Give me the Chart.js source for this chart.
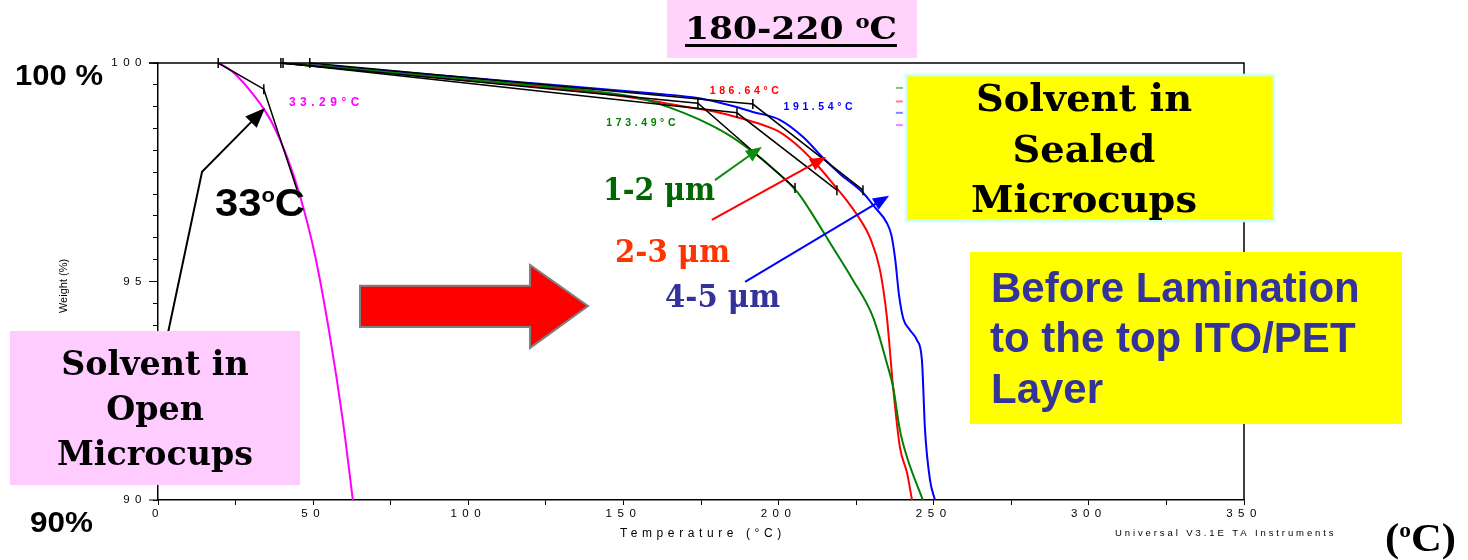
<!DOCTYPE html>
<html>
<head>
<meta charset="utf-8">
<title>TGA - solvent in microcups</title>
<script src="https://cdn.jsdelivr.net/npm/chart.js@4.4.1/dist/chart.umd.min.js"></script>
<style>
  body { margin: 0; background: #fff; }
  #wrap { width: 1468px; height: 560px; position: relative; }
</style>
</head>
<body>
<div id="wrap"><canvas id="tga"></canvas></div>
<script>
// temperature (°C) and weight (%)
const openT  = [19.5, 24, 27.4, 30, 33.8, 37, 41.6, 45.8, 50.6, 55.4, 59.6, 62.8];
const openW  = [100, 99.8, 99.56, 99.34, 98.98, 98.6, 97.85, 96.95, 95.6, 93.75, 91.8, 90];

const greenT = [40, 60, 80, 100, 120, 140, 155, 165, 174, 184, 192, 198, 206, 210, 216, 224, 230.4, 234.9, 236.9, 239.1, 241.4, 246.5];
const greenW = [100, 99.88, 99.75, 99.62, 99.5, 99.36, 99.2, 98.98, 98.72, 98.35, 97.95, 97.6, 97.05, 96.64, 95.95, 95.03, 94.19, 93.13, 92.59, 91.6, 90.98, 90];

const redT = [40, 60, 80, 100, 120, 140, 158, 170, 180, 186.6, 195, 200.4, 206, 212, 218, 222, 226, 229.5, 232.7, 234.9, 236.9, 239.1, 241.4, 243];
const redW = [100, 99.87, 99.74, 99.6, 99.47, 99.33, 99.15, 99.0, 98.88, 98.76, 98.58, 98.42, 98.12, 97.7, 97.2, 96.85, 96.45, 96.0, 95.26, 94.19, 92.59, 91.21, 90.62, 90];

const blueT = [40, 60, 80, 100, 120, 140, 160, 174, 185, 191.7, 200.4, 208, 214.3, 220, 227.2, 231, 234.9, 236.4, 237.6, 238.8, 240.2, 242.2, 244.6, 246.2, 247.2, 248.8, 250.4];
const blueW = [100, 99.9, 99.78, 99.66, 99.54, 99.42, 99.3, 99.2, 99.02, 98.88, 98.7, 98.3, 97.83, 97.45, 97.03, 96.7, 96.34, 96.05, 95.5, 94.7, 94.15, 93.9, 93.66, 93.2, 91.6, 90.46, 90];

// onset construction lines (start, onset, end of tangent)
const openTanT  = [19.4, 34.1, 44.8];
const openTanW  = [100, 99.4, 97.1];
const greenTanT = [39.6, 174, 205.3];
const greenTanW = [100, 99.08, 97.14];
const redTanT   = [40.3, 186.6, 218.8];
const redTanW   = [100, 98.86, 97.09];
const blueTanT  = [48.9, 191.7, 227.2];
const blueTanW  = [100, 99.06, 97.09];

const onsetText = ['33.29°C', '173.49°C', '186.64°C', '191.54°C'];
const onsetAt   = [[42.2, 99.1], [144.5, 98.63], [177.8, 99.36], [201.6, 98.98]];

const xMin = 0, xMax = 350, xStep = 25, xLabelEvery = 50;
const yMin = 90, yMax = 100, yStep = 0.5, yLabels = [90, 95, 100];

const pts = (t, w) => t.map((v, i) => ({x: v, y: w[i]}));

function curve(t, w, color) {
  return {data: pts(t, w), borderColor: color, borderWidth: 2, pointRadius: 0,
          cubicInterpolationMode: 'monotone', fill: false};
}
function tangent(t, w, radii) {
  return {data: pts(t, w), borderColor: '#000', borderWidth: 1.5, tension: 0,
          pointStyle: 'line', rotation: 90, pointRadius: radii,
          pointBorderColor: '#000', pointBorderWidth: 1.5, clip: false, fill: false};
}

function richWidth(ctx, parts) {
  let w = 0;
  for (const p of parts) { ctx.font = p.font; w += ctx.measureText(p.text).width; }
  return w;
}
// draws text parts on one baseline, squeezed/stretched to targetW when given
function drawRich(ctx, parts, x, y, align, targetW, color) {
  const w = richWidth(ctx, parts);
  const sx = targetW ? targetW / w : 1;
  const dw = w * sx;
  const x0 = align === 'center' ? x - dw / 2 : align === 'right' ? x - dw : x;
  ctx.save();
  ctx.translate(x0, y);
  ctx.scale(sx, 1);
  ctx.fillStyle = color;
  ctx.textAlign = 'left';
  ctx.textBaseline = 'alphabetic';
  let cx = 0;
  for (const p of parts) {
    ctx.font = p.font;
    ctx.fillText(p.text, cx, -(p.rise || 0));
    cx += ctx.measureText(p.text).width;
  }
  ctx.restore();
  return {x0: x0, w: dw};
}
function drawBlock(ctx, lines, font, cx, baselines, widest, widestW, color) {
  ctx.font = font;
  const sx = widestW / ctx.measureText(widest).width;
  lines.forEach((ln, i) => {
    ctx.font = font;
    drawRich(ctx, [{text: ln, font: font}], cx, baselines[i], 'center', ctx.measureText(ln).width * sx, color);
  });
}
function arrow(ctx, p, color, lw, hl, hw) {
  ctx.save();
  ctx.strokeStyle = color; ctx.fillStyle = color; ctx.lineWidth = lw;
  const a = p[p.length - 2], b = p[p.length - 1];
  const ang = Math.atan2(b[1] - a[1], b[0] - a[0]);
  ctx.beginPath();
  ctx.moveTo(p[0][0], p[0][1]);
  for (let i = 1; i < p.length - 1; i++) ctx.lineTo(p[i][0], p[i][1]);
  ctx.lineTo(b[0] - Math.cos(ang) * hl * 0.8, b[1] - Math.sin(ang) * hl * 0.8);
  ctx.stroke();
  ctx.beginPath();
  ctx.moveTo(b[0], b[1]);
  ctx.lineTo(b[0] - Math.cos(ang) * hl - Math.sin(ang) * hw / 2, b[1] - Math.sin(ang) * hl + Math.cos(ang) * hw / 2);
  ctx.lineTo(b[0] - Math.cos(ang) * hl + Math.sin(ang) * hw / 2, b[1] - Math.sin(ang) * hl - Math.cos(ang) * hw / 2);
  ctx.closePath();
  ctx.fill();
  ctx.restore();
}

const decorations = {
  id: 'decorations',
  beforeDraw(chart) {
    chart.ctx.letterSpacing = '5.5px';
  },
  afterDraw(chart) {
    const ctx = chart.ctx;
    const xs = chart.scales.x, ys = chart.scales.y;
    const P = (t, w) => [xs.getPixelForValue(t), ys.getPixelForValue(w)];
    const area = chart.chartArea;
    ctx.save();
    ctx.letterSpacing = '0px';

    // frame top and right, longer major ticks on y
    ctx.strokeStyle = '#000'; ctx.lineWidth = 1.5;
    ctx.beginPath();
    ctx.moveTo(area.left - 9, area.top); ctx.lineTo(area.right, area.top); ctx.lineTo(area.right, area.bottom);
    ctx.stroke();
    ctx.lineWidth = 1;
    yLabels.forEach((v) => {
      const y = ys.getPixelForValue(v);
      ctx.beginPath(); ctx.moveTo(area.left - 9, y); ctx.lineTo(area.left, y); ctx.stroke();
    });

    // little legend dashes
    const dashCols = ['#80c080', '#ff8080', '#8080ff', '#ff80ff'];
    const dashY = [99.43, 99.12, 98.86, 98.58];
    dashCols.forEach((c, i) => {
      const a = P(237.8, dashY[i]);
      ctx.fillStyle = c; ctx.fillRect(a[0], a[1] - 1, 7, 2);
    });

    // onset temperatures
    const onsetCols = ['#ff00ff', '#008000', '#ff0000', '#0000ff'];
    ctx.textBaseline = 'middle'; ctx.textAlign = 'left';
    onsetText.forEach((s, i) => {
      const a = P(onsetAt[i][0], onsetAt[i][1]);
      ctx.letterSpacing = i === 0 ? '4.5px' : '3.6px';
      ctx.font = i === 0 ? 'bold 12px "Liberation Sans", Arial, sans-serif' : 'bold 10.5px "Liberation Sans", Arial, sans-serif';
      ctx.fillStyle = onsetCols[i];
      ctx.fillText(s, a[0], a[1]);
    });
    ctx.letterSpacing = '0px';

    // axis captions
    ctx.fillStyle = '#000';
    ctx.font = '12px "Liberation Sans", Arial, sans-serif';
    ctx.letterSpacing = '4.6px';
    ctx.textAlign = 'center'; ctx.textBaseline = 'middle';
    ctx.fillText('Temperature (°C)', 703, 534);
    ctx.font = '9.5px "Liberation Sans", Arial, sans-serif';
    ctx.letterSpacing = '2.9px';
    ctx.textAlign = 'left';
    ctx.fillText('Universal V3.1E TA Instruments', 1115, 533);
    ctx.letterSpacing = '0px';
    ctx.save();
    ctx.translate(64, 286); ctx.rotate(-Math.PI / 2);
    ctx.font = '11px "Liberation Sans", Arial, sans-serif';
    ctx.textAlign = 'center';
    ctx.fillText('Weight (%)', 0, 0);
    ctx.restore();

    // arrows pointing at the onsets
    arrow(ctx, [P(-4, 91.4), P(14.2, 97.51), P(34.5, 98.97)], '#000', 2, 20, 16);
    arrow(ctx, [P(179.5, 97.32), P(194.6, 98.08)], '#108a10', 2, 16, 13);
    arrow(ctx, [P(178.5, 96.41), P(215.3, 97.85)], '#ff0000', 2, 16, 13);
    arrow(ctx, [P(189.2, 94.99), P(235.6, 96.96)], '#0000ff', 2, 16, 13);

    // red block arrow
    const b1 = P(65.1, 94.9), b2 = P(119.9, 93.96), h1 = P(119.9, 95.38), h2 = P(119.9, 93.48), tip = P(138.6, 94.44);
    ctx.beginPath();
    ctx.moveTo(b1[0], b1[1]); ctx.lineTo(b2[0], b1[1]); ctx.lineTo(h1[0], h1[1]);
    ctx.lineTo(tip[0], tip[1]); ctx.lineTo(h2[0], h2[1]); ctx.lineTo(b2[0], b2[1]);
    ctx.lineTo(b1[0], b2[1]); ctx.closePath();
    ctx.fillStyle = '#ff0000'; ctx.fill();
    ctx.strokeStyle = '#808080'; ctx.lineWidth = 2; ctx.stroke();

    const serif = '"DejaVu Serif", "Liberation Serif", serif';
    const sans = '"Liberation Sans", Arial, sans-serif';

    // title box
    ctx.fillStyle = '#ffd3fb'; ctx.fillRect(667, 0, 250, 58);
    const t = drawRich(ctx, [
      {text: '180-220 ', font: 'bold 31px ' + serif},
      {text: 'o', font: 'bold 19px ' + serif, rise: 11},
      {text: 'C', font: 'bold 31px ' + serif}
    ], 791, 39, 'center', 212, '#000');
    ctx.fillStyle = '#000'; ctx.fillRect(t.x0, 44, t.w, 3);

    // sealed microcups box
    ctx.fillStyle = '#ffff00'; ctx.fillRect(906, 75, 368, 146);
    ctx.strokeStyle = '#ccffff'; ctx.lineWidth = 2.5; ctx.strokeRect(906, 75, 368, 146);
    drawBlock(ctx, ['Solvent in', 'Sealed', 'Microcups'], 'bold 38px ' + serif, 1084, [111, 162, 212], 'Microcups', 226, '#000');

    // before lamination box
    ctx.fillStyle = '#ffff00'; ctx.fillRect(970, 252, 432, 172);
    ctx.fillStyle = '#333399'; ctx.font = 'bold 42px ' + sans;
    ctx.textAlign = 'left'; ctx.textBaseline = 'alphabetic';
    ctx.fillText('Before Lamination', 991, 302);
    ctx.fillText('to the top ITO/PET', 990, 352);
    ctx.fillText('Layer', 991, 403);

    // open microcups box
    ctx.fillStyle = '#ffccff'; ctx.fillRect(10, 331, 290, 154);
    drawBlock(ctx, ['Solvent in', 'Open', 'Microcups'], 'bold 34px ' + serif, 155, [375, 420, 465], 'Microcups', 196, '#000');

    // thickness labels
    drawRich(ctx, [{text: '1-2 μm', font: 'bold 31px ' + serif}], 603, 200, 'left', 112, '#006600');
    drawRich(ctx, [{text: '2-3 μm', font: 'bold 31px ' + serif}], 615, 262, 'left', 115, '#ff3300');
    drawRich(ctx, [{text: '4-5 μm', font: 'bold 31px ' + serif}], 665, 307, 'left', 115, '#333399');

    // other captions
    drawRich(ctx, [
      {text: '33', font: 'bold 38px ' + sans},
      {text: 'o', font: 'bold 20px ' + sans, rise: 14},
      {text: 'C', font: 'bold 38px ' + sans}
    ], 215, 216, 'left', 90, '#000');
    drawRich(ctx, [{text: '100 %', font: 'bold 29px ' + sans}], 15, 85, 'left', 88, '#000');
    drawRich(ctx, [{text: '90%', font: 'bold 29px ' + sans}], 30, 532, 'left', 63, '#000');
    drawRich(ctx, [
      {text: '(', font: 'bold 40px "Liberation Serif", serif'},
      {text: 'o', font: 'bold 22px "Liberation Serif", serif', rise: 14},
      {text: 'C)', font: 'bold 40px "Liberation Serif", serif'}
    ], 1385, 551, 'left', 71, '#000');

    ctx.restore();
  }
};

new Chart(document.getElementById('tga'), {
  type: 'line',
  data: {
    datasets: [
      tangent(openTanT, openTanW, [5, 5, 0]),
      tangent(greenTanT, greenTanW, 5),
      tangent(redTanT, redTanW, 5),
      tangent(blueTanT, blueTanW, 5),
      curve(openT, openW, '#ff00ff'),
      curve(greenT, greenW, '#008000'),
      curve(redT, redW, '#ff0000'),
      curve(blueT, blueW, '#0000ff')
    ]
  },
  options: {
    responsive: true,
    maintainAspectRatio: false,
    animation: false,
    layout: {padding: {left: 0, top: 63, right: 224, bottom: 0}},
    plugins: {legend: {display: false}, tooltip: {enabled: false}},
    scales: {
      x: {
        type: 'linear', min: xMin, max: xMax,
        afterFit: (s) => { s.height = 60; },
        border: {display: true, color: '#000', width: 1.5},
        grid: {drawOnChartArea: false, color: '#000', tickLength: 5},
        ticks: {
          stepSize: xStep, autoSkip: false, maxRotation: 0, padding: 2, color: '#000',
          font: {family: '"Liberation Sans", Arial, sans-serif', size: 11.5},
          callback: (v) => v % xLabelEvery === 0 ? String(v) : ''
        }
      },
      y: {
        type: 'linear', min: yMin, max: yMax,
        afterFit: (s) => { s.width = 158; },
        border: {display: true, color: '#000', width: 1.5},
        grid: {drawOnChartArea: false, color: '#000', tickLength: 5},
        ticks: {
          stepSize: yStep, autoSkip: false, padding: 6, color: '#000',
          font: {family: '"Liberation Sans", Arial, sans-serif', size: 11.5},
          callback: (v) => yLabels.includes(v) ? String(v) : ''
        }
      }
    }
  },
  plugins: [decorations]
});
</script>
</body>
</html>
